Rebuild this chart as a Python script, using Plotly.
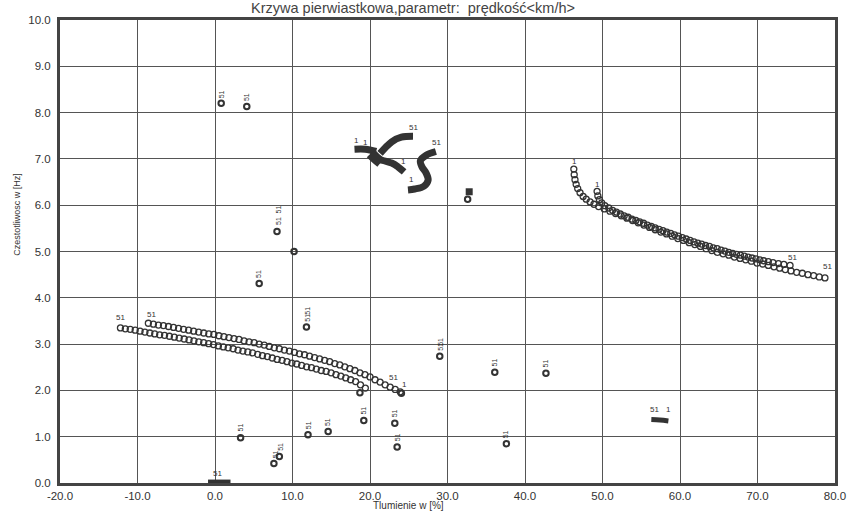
import plotly.graph_objects as go

# ---------------- data ----------------
# lower-left curve A (speed 1 -> 51)
curveA_x = [19.4, 18.77, 18.14, 17.5, 16.87, 16.24, 15.61, 14.98, 14.34, 13.71, 13.08, 12.45, 11.82,
            11.18, 10.55, 9.92, 9.29, 8.66, 8.02, 7.39, 6.76, 6.13, 5.5, 4.86, 4.23, 3.6, 2.97, 2.34,
            1.7, 1.07, 0.44, -0.19, -0.82, -1.46, -2.09, -2.72, -3.35, -3.98, -4.62, -5.25, -5.88,
            -6.51, -7.14, -7.78, -8.41, -9.04, -9.67, -10.3, -10.94, -11.57, -12.2]
curveA_y = [2.05, 2.12, 2.19, 2.23, 2.27, 2.31, 2.34, 2.38, 2.41, 2.43, 2.46, 2.49, 2.51,
            2.54, 2.57, 2.59, 2.62, 2.65, 2.67, 2.70, 2.73, 2.75, 2.78, 2.81, 2.83, 2.85, 2.87, 2.90,
            2.92, 2.94, 2.96, 2.99, 3.01, 3.03, 3.05, 3.07, 3.09, 3.11, 3.13, 3.15, 3.17,
            3.19, 3.20, 3.22, 3.24, 3.26, 3.28, 3.30, 3.32, 3.33, 3.35]
# lower-left curve B
curveB_x = [23.9, 23.25, 22.6, 21.95, 21.3, 20.65, 20.0, 19.35, 18.7, 18.05, 17.4, 16.75, 16.1,
            15.45, 14.8, 14.15, 13.5, 12.85, 12.2, 11.55, 10.9, 10.25, 9.6, 8.95, 8.3, 7.65, 7.0,
            6.35, 5.7, 5.05, 4.4, 3.75, 3.1, 2.45, 1.8, 1.15, 0.5, -0.15, -0.8, -1.45, -2.1, -2.75,
            -3.4, -4.05, -4.7, -5.35, -6.0, -6.65, -7.3, -7.95, -8.6]
curveB_y = [1.97, 2.02, 2.07, 2.12, 2.18, 2.23, 2.29, 2.34, 2.38, 2.43, 2.47, 2.51, 2.55,
            2.58, 2.62, 2.65, 2.68, 2.71, 2.74, 2.77, 2.79, 2.82, 2.85, 2.87, 2.90, 2.92, 2.95,
            2.98, 3.00, 3.03, 3.05, 3.07, 3.10, 3.12, 3.14, 3.16, 3.18, 3.21, 3.22, 3.24, 3.26, 3.28,
            3.30, 3.32, 3.34, 3.36, 3.38, 3.40, 3.41, 3.43, 3.45]
# right curve (main)
curveC_x = [46.3, 46.35, 46.45, 46.6, 46.8, 47.1, 47.5, 47.9, 48.4, 48.9,
            49.5, 50.23, 50.96, 51.69, 52.42, 53.15, 53.88, 54.61, 55.34, 56.07, 56.8, 57.53,
            58.26, 58.99, 59.72, 60.45, 61.18, 61.91, 62.64, 63.37, 64.1, 64.83, 65.56, 66.29,
            67.02, 67.75, 68.48, 69.21, 69.94, 70.67, 71.4, 72.13, 72.86, 73.59, 74.32, 75.05,
            75.78, 76.51, 77.24, 77.97, 78.7]
curveC_y = [6.78, 6.66, 6.55, 6.45, 6.36, 6.27, 6.19, 6.13, 6.07, 6.02,
            5.97, 5.92, 5.87, 5.82, 5.77, 5.72, 5.67, 5.62, 5.57, 5.52, 5.47, 5.42,
            5.38, 5.33, 5.28, 5.24, 5.19, 5.15, 5.11, 5.06, 5.02, 4.98, 4.95, 4.92,
            4.88, 4.85, 4.82, 4.79, 4.75, 4.73, 4.70, 4.67, 4.64, 4.61, 4.58, 4.55,
            4.53, 4.50, 4.48, 4.45, 4.43]
# right curve (second)
curveD_x = [49.3, 49.4, 49.6, 49.9, 50.3, 50.8, 51.3, 51.8, 52.3, 52.8, 53.3, 53.8, 54.3, 54.8,
            55.3, 55.8, 56.3, 56.8, 57.3, 57.8, 58.3, 58.8, 59.3, 59.8, 60.3, 60.8, 61.3, 61.8,
            62.3, 62.8, 63.3, 63.8, 64.3, 64.8, 65.3, 65.8, 66.3, 66.8, 67.3, 67.8, 68.3, 68.8,
            69.3, 69.8, 70.3, 70.8, 71.4, 72.0, 72.7, 73.4, 74.2]
curveD_y = [6.30, 6.20, 6.12, 6.05, 5.99, 5.94, 5.89, 5.85, 5.81, 5.77, 5.74, 5.70, 5.67, 5.64,
            5.61, 5.57, 5.54, 5.51, 5.48, 5.45, 5.42, 5.39, 5.36, 5.33, 5.30, 5.27, 5.24, 5.21,
            5.18, 5.16, 5.13, 5.11, 5.08, 5.06, 5.03, 5.01, 4.98, 4.96, 4.94, 4.92, 4.90, 4.88,
            4.86, 4.84, 4.82, 4.80, 4.78, 4.76, 4.74, 4.72, 4.70]

# dense (thick) strokes in the middle cluster
stroke1_x = [18.0, 19.4, 20.8]
stroke1_y = [7.21, 7.21, 7.16]
blob_x = [20.1, 20.7, 21.4]
blob_y = [7.12, 7.02, 6.92]
stroke2_x = [21.3, 22.8, 24.05, 25.55]
stroke2_y = [7.12, 7.37, 7.47, 7.49]
stroke3_x = [21.3, 22.8, 23.6, 24.4]
stroke3_y = [6.98, 6.91, 6.83, 6.72]
stroke4_x = [28.5, 27.25, 26.5, 26.7, 27.25, 27.5, 26.96, 25.77, 24.9]
stroke4_y = [7.16, 7.08, 6.96, 6.83, 6.69, 6.54, 6.41, 6.35, 6.33]
stroke5_x = [56.3, 57.4, 58.5]
stroke5_y = [1.37, 1.36, 1.34]
axis_x = [-0.9, -0.4, 0.1, 0.6, 1.1, 1.6, 2.0]
axis_y = [0.02, 0.02, 0.02, 0.02, 0.02, 0.02, 0.02]

# isolated points
pts_x = [0.8, 4.1, 8.0, 10.2, 5.7, 11.8, 29.0, 36.1, 42.7, 19.2, 23.2, 14.6, 12.0, 3.3,
         23.5, 37.6, 7.6, 8.3, 18.7, 24.05, 32.6]
pts_y = [8.20, 8.13, 5.43, 5.00, 4.31, 3.37, 2.74, 2.39, 2.37, 1.35, 1.29, 1.11, 1.04, 0.98,
         0.78, 0.85, 0.42, 0.57, 1.95, 1.94, 6.13]
sq_x = [32.8]
sq_y = [6.29]

# small rotated "51" labels next to isolated points
lab51_x = [0.8, 4.1, 8.2, 8.2, 5.7, 12.0, 12.0, 29.1, 29.1, 36.1, 42.7, 19.2, 23.2, 14.6,
           12.0, 3.3, 23.5, 37.6, 7.8, 8.5, 10.1]
lab51_y = [8.40, 8.33, 5.90, 5.65, 4.52, 3.72, 3.57, 3.04, 2.93, 2.60, 2.58, 1.56, 1.50, 1.32,
           1.25, 1.19, 0.99, 1.06, 0.63, 0.78, 5.05]
lab51_t = ["51", "51", "51", "51", "51", "51", "51", "51", "51", "51", "51", "51", "51", "51",
           "51", "51", "51", "51", "51", "51", "1"]

# curve-end labels
end_x = [-12.2, -8.2, 24.4, 23.0, 46.4, 49.4, 74.5, 79.0, 18.25, 19.4, 25.55, 28.6, 24.3, 25.3,
         56.7, 58.5, 0.3]
end_y = [3.57, 3.64, 2.12, 2.27, 6.94, 6.44, 4.88, 4.67, 7.39, 7.36, 7.68, 7.35, 6.94, 6.55,
         1.58, 1.58, 0.20]
end_t = ["51", "51", "1", "51", "1", "1", "51", "51", "1", "1", "51", "51", "1", "1",
         "51", "1", "51"]

x_ticks = [-20, -10, 0, 10, 20, 30, 40, 50, 60, 70, 80]
x_ticktext = ["-20.0", "-10.0", "0.0", "10.0", "20.0", "30.0", "40.0", "50.0", "60.0", "70.0", "80.0"]
y_ticks = [0, 1, 2, 3, 4, 5, 6, 7, 8, 9, 10]
y_ticktext = ["0.0", "1.0", "2.0", "3.0", "4.0", "5.0", "6.0", "7.0", "8.0", "9.0", "10.0"]

title_text = "Krzywa pierwiastkowa,parametr:  prędkość&lt;km/h&gt;"
xlabel = "Tlumienie w [%]"
ylabel = "Czestotliwosc w [Hz]"

# ---------------- figure ----------------
INK = "#333333"
FONT = "Liberation Sans, Arial"
fig = go.Figure()

circ = dict(symbol="circle-open", size=6, color=INK, line=dict(width=1.3, color=INK))
for cx, cy in [(curveA_x, curveA_y), (curveB_x, curveB_y), (curveC_x, curveC_y), (curveD_x, curveD_y)]:
    fig.add_trace(go.Scatter(x=cx, y=cy, mode="markers", marker=circ, showlegend=False,
                             hoverinfo="skip"))

for sx, sy, w in [(stroke1_x, stroke1_y, 7), (blob_x, blob_y, 11), (stroke2_x, stroke2_y, 7),
                  (stroke3_x, stroke3_y, 7), (stroke4_x, stroke4_y, 7), (stroke5_x, stroke5_y, 5),
                  (axis_x, axis_y, 5)]:
    fig.add_trace(go.Scatter(x=sx, y=sy, mode="lines", line=dict(color=INK, width=w, shape="spline"),
                             showlegend=False, hoverinfo="skip", cliponaxis=False))

fig.add_trace(go.Scatter(x=pts_x, y=pts_y, mode="markers",
                         marker=dict(symbol="circle-open", size=5.5, color=INK, line=dict(width=2, color=INK)),
                         showlegend=False, hoverinfo="skip"))
fig.add_trace(go.Scatter(x=sq_x, y=sq_y, mode="markers",
                         marker=dict(symbol="square", size=7, color=INK),
                         showlegend=False, hoverinfo="skip"))

for lx, ly, lt in zip(lab51_x, lab51_y, lab51_t):
    fig.add_annotation(x=lx, y=ly, text=lt, showarrow=False, textangle=-90,
                       font=dict(family=FONT, size=7, color=INK))
for lx, ly, lt in zip(end_x, end_y, end_t):
    fig.add_annotation(x=lx, y=ly, text=lt, showarrow=False,
                       font=dict(family=FONT, size=8, color=INK))

fig.add_annotation(xref="paper", yref="paper", x=0.455, y=1.026, text=title_text, showarrow=False,
                   xanchor="center", yanchor="middle",
                   font=dict(family=FONT, size=14.5, color="#444"))
fig.add_annotation(xref="paper", yref="paper", x=0.45, y=-0.048, text=xlabel, showarrow=False,
                   xanchor="center", yanchor="middle",
                   font=dict(family=FONT, size=10, color="#333"))
fig.add_annotation(xref="paper", yref="paper", x=-0.055, y=0.58, text=ylabel, showarrow=False,
                   textangle=-90, xanchor="center", yanchor="middle",
                   font=dict(family=FONT, size=9, color="#333"))

axis_common = dict(showline=True, linewidth=3, linecolor="#444", mirror=True,
                   showgrid=True, gridcolor="#555", gridwidth=1, zeroline=False, ticks="",
                   tickfont=dict(family=FONT, size=11.5, color="#333"))
fig.update_xaxes(range=[-20, 80], tickvals=x_ticks, ticktext=x_ticktext, **axis_common)
fig.update_yaxes(range=[0, 10], tickvals=y_ticks, ticktext=y_ticktext, ticklabelstandoff=4,
                 **axis_common)

fig.update_layout(width=858, height=528, margin=dict(l=60, r=18, t=20, b=45),
                  paper_bgcolor="white", plot_bgcolor="white")

fig.write_html("out.html")
